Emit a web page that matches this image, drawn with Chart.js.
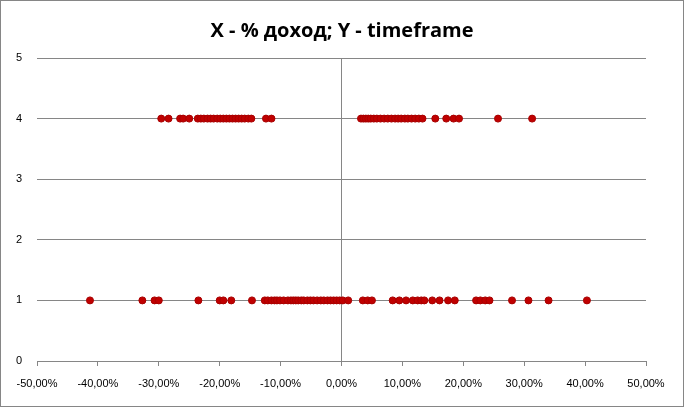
<!DOCTYPE html>
<html>
<head>
<meta charset="utf-8">
<script src="https://cdn.jsdelivr.net/npm/chart.js@4"></script>
<style>
  body { margin: 0; background: #fff; }
  #wrap { width: 684px; height: 407px; }
</style>
</head>
<body>
<div id="wrap"><canvas id="chart" width="684" height="407"></canvas></div>
<script>
// % доход for timeframe 4
const income4 = [-29.6, -28.4, -26.5, -26.0, -25.0,
  -23.6, -23.1, -22.6, -22.0, -21.5, -21.0, -20.4, -19.9, -19.4, -18.9, -18.4,
  -17.9, -17.4, -16.9, -16.4, -15.9, -15.3, -14.8, -12.4, -11.5,
  3.2, 3.6, 4.0, 4.4, 4.8, 5.3, 5.8, 6.4, 7.0, 7.6, 8.2, 8.8, 9.3, 9.8,
  10.4, 10.9, 11.5, 12.1, 12.7, 13.3, 15.4, 17.2, 18.4, 19.3, 25.7, 31.3]
// % доход for timeframe 1
const income1 = [-41.3, -32.7, -30.7, -30.0, -23.5, -20.0, -19.4, -18.1, -14.7,
  -12.6, -12.1, -11.5, -11.0, -10.6, -10.1, -9.5, -8.8, -8.3, -7.9, -7.5, -7.1,
  -6.6, -6.2, -5.6, -5.1, -4.6, -4.0, -3.4, -2.9, -2.3, -1.8, -1.3, -0.8, -0.3, 0.2,
  1.1, 3.5, 4.3, 5.0, 8.4, 9.5, 10.6, 11.7, 12.5, 13.1, 13.6, 14.9, 16.1, 17.5,
  18.6, 22.1, 22.8, 23.6, 24.3, 28.0, 30.7, 34.0, 40.3]
const timeframes = [4, 1]
const xTicks = [-50, -40, -30, -20, -10, 0, 10, 20, 30, 40, 50]
const yTicks = [0, 1, 2, 3, 4, 5]

const points = []
income4.forEach(v => points.push({ x: v, y: timeframes[0] }))
income1.forEach(v => points.push({ x: v, y: timeframes[1] }))

const frame = {
  id: 'frame',
  beforeDraw(chart) {
    const ctx = chart.ctx
    ctx.save()
    ctx.fillStyle = '#fff'
    ctx.fillRect(0, 0, chart.width, chart.height)
    ctx.restore()
  },
  afterDraw(chart) {
    const ctx = chart.ctx
    ctx.save()
    ctx.strokeStyle = '#868686'
    ctx.lineWidth = 1
    ctx.strokeRect(0.5, 0.5, chart.width - 1, chart.height - 1)
    ctx.restore()
  }
}

const gray = '#868686'

new Chart(document.getElementById('chart').getContext('2d'), {
  type: 'scatter',
  data: {
    datasets: [{
      data: points,
      backgroundColor: '#C00000',
      borderColor: '#A80000',
      borderWidth: 1,
      pointRadius: 3.5,
      pointHoverRadius: 3.5
    }]
  },
  options: {
    responsive: false,
    animation: false,
    layout: { padding: 0 },
    plugins: {
      legend: { display: false },
      tooltip: { enabled: false },
      title: {
        display: true,
        text: 'X - % доход; Y - timeframe',
        color: '#000',
        font: { family: 'Open Sans', size: 20, weight: 'bold' },
        padding: { top: 19, bottom: 15 }
      }
    },
    scales: {
      x: {
        type: 'linear',
        min: -50,
        max: 50,
        afterBuildTicks: s => { s.ticks = xTicks.map(v => ({ value: v })) },
        afterFit: s => { s.height = 46 },
        ticks: {
          color: '#000',
          font: { family: 'Liberation Sans', size: 11 },
          padding: 11,
          maxRotation: 0,
          callback: v => v.toFixed(2).replace('.', ',') + '%'
        },
        grid: {
          color: c => (c.tick && c.tick.value === 0 ? gray : 'rgba(0,0,0,0)'),
          tickColor: gray,
          tickLength: 5
        },
        border: { display: true, color: gray }
      },
      y: {
        min: 0,
        max: 5,
        afterBuildTicks: s => { s.ticks = yTicks.map(v => ({ value: v })) },
        afterFit: s => { s.width = 37 },
        ticks: {
          color: '#000',
          font: { family: 'Liberation Sans', size: 11 },
          padding: 15
        },
        grid: { color: gray, drawTicks: false },
        border: { display: false }
      },
      spacer: {
        position: 'right',
        min: 0,
        max: 5,
        afterFit: s => { s.width = 38 },
        ticks: { display: false },
        grid: { display: false },
        border: { display: false }
      }
    }
  },
  plugins: [frame]
})
</script>
</body>
</html>
